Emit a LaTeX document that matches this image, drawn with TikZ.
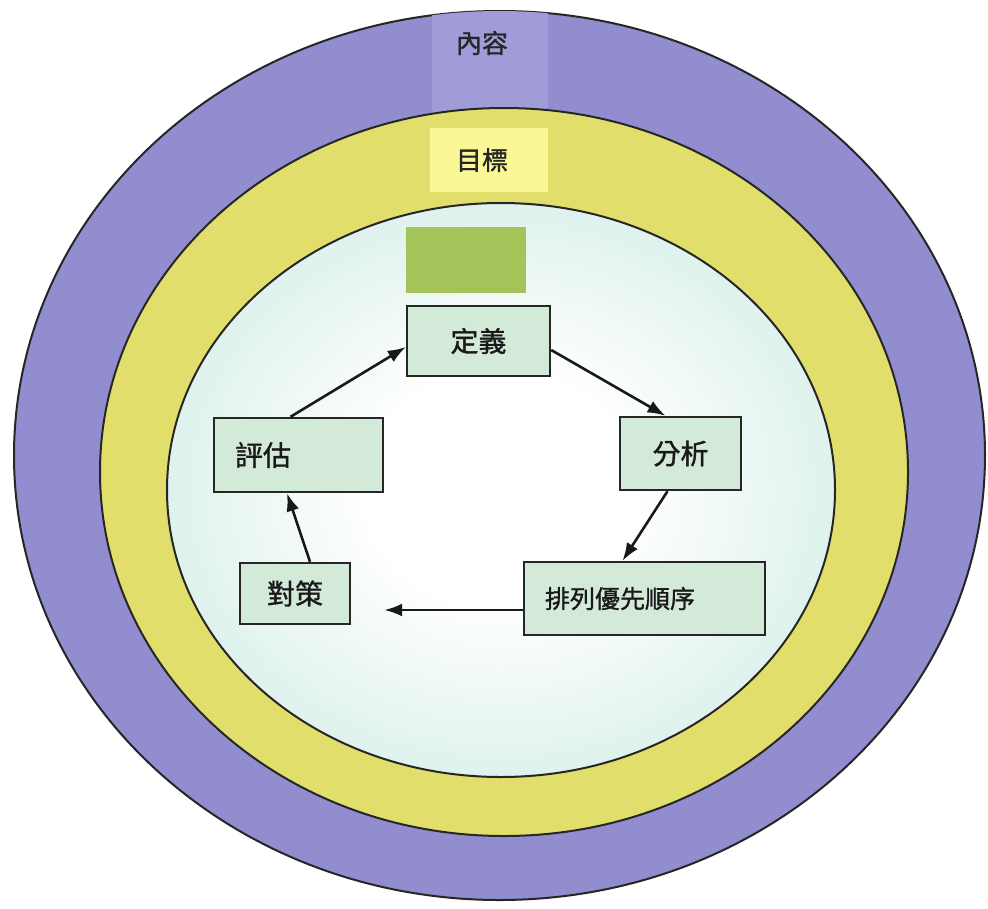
\documentclass[tikz,border=0pt]{standalone}
\usepackage{fontspec}
\newfontfamily\cjk{Noto Sans CJK TC}[FakeBold=1.2]
\usetikzlibrary{arrows.meta,calc}
\definecolor{outerpurple}{RGB}{146,141,206}
\definecolor{labelpurple}{RGB}{160,156,216}
\definecolor{ringyellow}{RGB}{226,222,108}
\definecolor{labelyellow}{RGB}{250,247,150}
\definecolor{innercyan}{RGB}{190,229,220}
\definecolor{stepfill}{RGB}{212,234,216}
\definecolor{topgreen}{RGB}{164,196,90}
\pgfdeclareradialshading{innerglow}{\pgfpoint{0bp}{0bp}}{color(0bp)=(white); color(10bp)=(white); color(40bp)=(innercyan); color(50bp)=(innercyan)}
\tikzset{
  ringline/.style={draw=black!85, line width=2pt},
  stepbox/.style={draw=black!85, line width=2.4pt, fill=stepfill, rectangle, inner sep=0pt,
    font=\cjk\fontsize{28}{30}\selectfont, text=black!90},
  flow/.style={draw=black!90, line width=2.6pt, -{Latex[length=18pt,width=13pt]}},
  ringlabel/.style={font=\cjk\fontsize{26}{28}\selectfont, text=black!85}
}
\begin{document}
\begin{tikzpicture}[x=1pt,y=-1pt]
\useasboundingbox (0,0) rectangle (988,908);
\fill[white] (0,0) rectangle (988,908);
% outer ring
\draw[ringline, fill=outerpurple] (499.5,455.5) ellipse [x radius=485.5pt, y radius=444.5pt];
\begin{scope}
  \clip (499.5,455.5) ellipse [x radius=485.5pt, y radius=444.5pt];
  \fill[labelpurple] (432,0) rectangle (548,120);
\end{scope}
\node[ringlabel] (content) at (482,43) {內容};
% middle ring
\draw[ringline, fill=ringyellow] (504,472) ellipse [x radius=404pt, y radius=364pt];
\node[fill=labelyellow, minimum width=118pt, minimum height=64pt, inner sep=0pt] (goalbox) at (489,160) {};
\node[ringlabel] (goal) at (482,160) {目標};
% inner area
\draw[ringline, shading=innerglow] (501,490) ellipse [x radius=334pt, y radius=287pt];
\node[fill=topgreen, minimum width=120pt, minimum height=66pt, inner sep=0pt] (green) at (466,260) {};
% steps
\node[stepbox, minimum width=143pt, minimum height=70pt] (def) at (478.5,341) {定義};
\node[stepbox, minimum width=169pt, minimum height=74pt, text width=127pt, inner xsep=21pt, align=left] (eval) at (298.5,455) {評估};
\node[stepbox, minimum width=110pt, minimum height=61pt] (cm) at (295,593.5) {對策};
\node[stepbox, minimum width=121pt, minimum height=73pt] (ana) at (680.5,453.5) {分析};
\node[stepbox, minimum width=241pt, minimum height=73pt, text width=199pt, inner xsep=21pt, align=left, font=\cjk\fontsize{25}{28}\selectfont] (pri) at (644.5,598.5) {排列優先順序};
% connectors
\draw[flow] ([xshift=-8pt]eval.north) -- ([yshift=-6pt]def.west);
\draw[flow] ([yshift=-9pt]def.east) -- ([xshift=-15pt]ana.north);
\draw[flow] ([xshift=-13pt]ana.south) -- ([xshift=-22pt]pri.north);
\coordinate (p4) at ([yshift=-11.5pt]pri.west);
\draw[flow, shorten >=33pt] (p4) -- (p4 -| cm.east);
\draw[flow] ([xshift=15pt]cm.north) -- ([xshift=-11.5pt]eval.south);
\end{tikzpicture}
\end{document}
